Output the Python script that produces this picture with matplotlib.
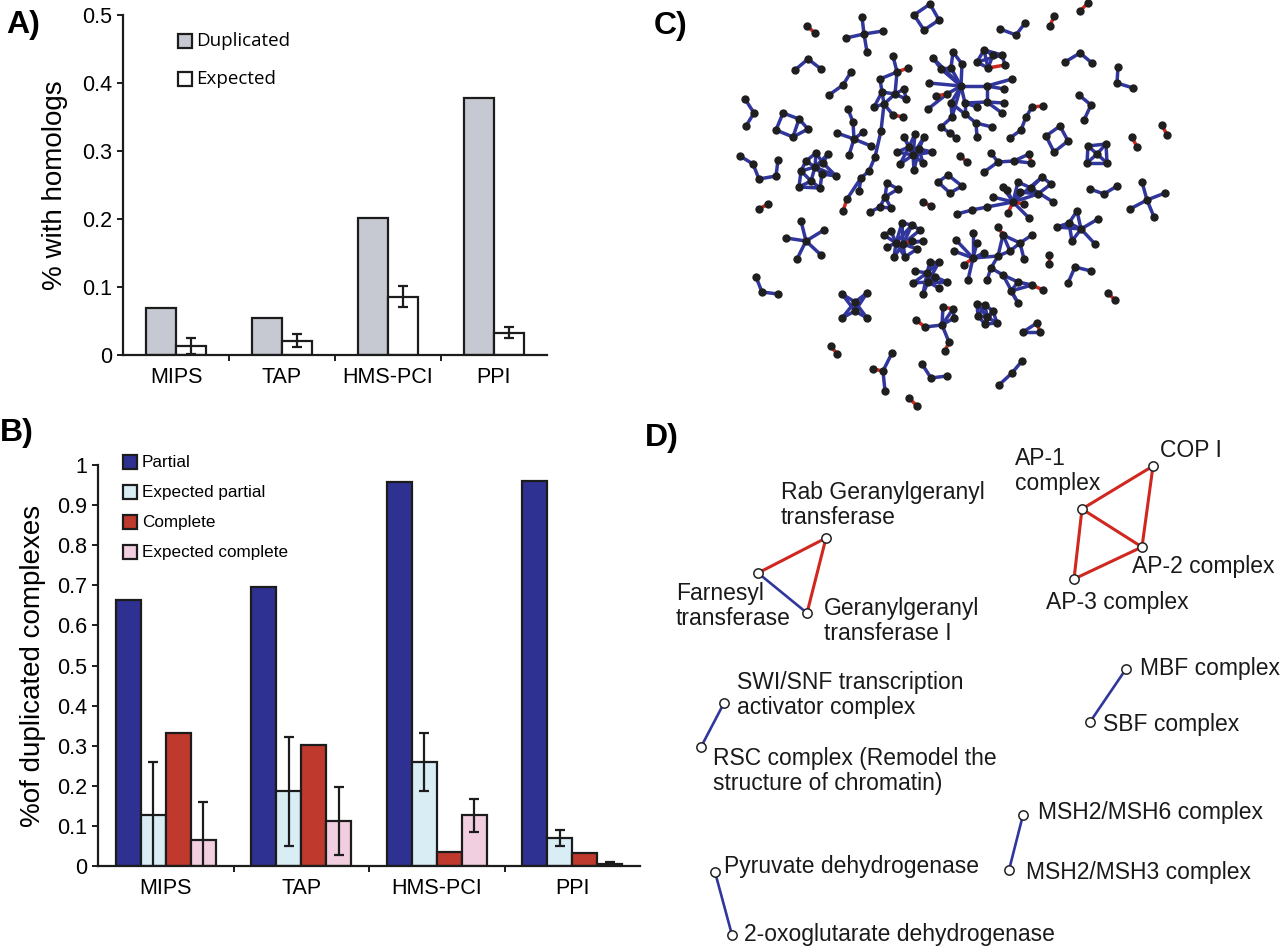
import numpy as np
import matplotlib.pyplot as plt
from matplotlib.patches import Rectangle
from matplotlib.collections import LineCollection
from matplotlib.ticker import FuncFormatter

plt.rcParams['font.family'] = ['Liberation Sans', 'DejaVu Sans']

# ---- A) homologs ----
groups = ['MIPS', 'TAP', 'HMS-PCI', 'PPI']
a_duplicated = [0.069, 0.055, 0.201, 0.378]
a_expected = [0.013, 0.021, 0.086, 0.033]
a_expected_err = [0.012, 0.0095, 0.016, 0.008]
a_legend = ['Duplicated', 'Expected']

# ---- B) duplicated complexes ----
b_partial = [0.664, 0.695, 0.958, 0.959]
b_exp_partial = [0.126, 0.186, 0.260, 0.069]
b_exp_partial_err = [0.134, 0.135, 0.072, 0.020]
b_complete = [0.331, 0.301, 0.036, 0.033]
b_exp_complete = [0.065, 0.112, 0.126, 0.005]
b_exp_complete_err = [0.094, 0.085, 0.042, 0.005]
b_legend = ['Partial', 'Expected partial', 'Complete', 'Expected complete']

# ---- C) network of complexes (image pixel coords), (nodes, blue edges, red edges) ----
net = [
    ([(807, 26), (815, 33)], [], [(0, 1)]),
    ([(864, 34), (862, 17), (846, 38), (883, 31), (867, 52)], [(0, 1), (0, 2), (0, 3), (0, 4)], []),
    ([(914, 15), (930, 4), (939, 20), (924, 30)], [(0, 1), (1, 2), (2, 3), (3, 0)], []),
    ([(795, 70), (808, 59), (821, 69)], [(0, 1), (1, 2)], []),
    ([(829, 95), (843, 85), (851, 72)], [(0, 1), (1, 2)], []),
    ([(745, 99), (754, 113), (746, 126)], [(0, 1), (1, 2)], []),
    ([(783, 113), (799, 119), (808, 129), (793, 137), (776, 130)],
     [(0, 1), (1, 2), (2, 3), (3, 4), (4, 0), (1, 3)], []),
    ([(740, 156), (753, 164), (759, 179), (776, 176), (778, 160)], [(0, 1), (1, 2), (2, 3), (3, 4)], []),
    ([(816, 153), (828, 154), (806, 161), (823, 163), (815, 167), (801, 171), (822, 174), (811, 181),
      (836, 176), (799, 187), (820, 188)],
     [(0, 4), (1, 4), (2, 4), (3, 4), (4, 5), (4, 6), (4, 7), (0, 2), (1, 3), (3, 8), (6, 8), (5, 9),
      (7, 9), (9, 10), (7, 10), (6, 10), (2, 5), (0, 3), (5, 7), (4, 8)], []),
    ([(854, 139), (848, 109), (853, 122), (837, 133), (863, 132), (871, 146), (849, 155)],
     [(1, 2), (2, 0), (0, 3), (0, 4), (0, 5), (0, 6)], []),
    ([(893, 56), (897, 72), (908, 68), (880, 79), (882, 92), (895, 94), (904, 89), (906, 99), (874, 107),
      (884, 104), (893, 115), (903, 117), (881, 131), (875, 157), (869, 171), (861, 178), (859, 191),
      (847, 199), (843, 211)],
     [(0, 1), (1, 3), (3, 4), (4, 5), (5, 6), (6, 7), (4, 8), (8, 9), (9, 5), (5, 7), (4, 9), (9, 10),
      (1, 5), (9, 12), (12, 13), (13, 14), (14, 15), (15, 17), (15, 16)],
     [(1, 2), (10, 11), (17, 18)]),
    ([(961, 86), (933, 58), (941, 69), (953, 52), (951, 68), (962, 64), (929, 83), (936, 96), (947, 94),
      (928, 109), (951, 103), (965, 103), (977, 107), (965, 114), (952, 117), (941, 127), (950, 133),
      (956, 138), (976, 123), (977, 137), (992, 127), (987, 86), (987, 102), (1004, 103), (1012, 79),
      (1004, 89), (1002, 113)],
     [(1, 2), (2, 0), (3, 4), (3, 5), (5, 0), (4, 0), (0, 6), (0, 8), (8, 9), (0, 10), (0, 11), (0, 21),
      (21, 24), (21, 25), (21, 22), (22, 11), (22, 23), (22, 26), (11, 12), (11, 13), (10, 14),
      (14, 15), (15, 16), (16, 17), (13, 18), (18, 20), (18, 19), (10, 13), (1, 0), (4, 2), (0, 14)],
     [(7, 8)]),
    ([(984, 50), (993, 55), (977, 62), (988, 68), (1002, 55), (1005, 65)],
     [(0, 1), (0, 2), (0, 3), (1, 4), (2, 3), (2, 4), (0, 4), (4, 5), (1, 3)], [(3, 5)]),
    ([(913, 155), (904, 137), (915, 134), (924, 137), (897, 152), (900, 164), (914, 170), (923, 163),
      (932, 152), (909, 147), (919, 149)],
     [(0, 1), (0, 2), (0, 3), (0, 4), (0, 5), (0, 6), (0, 7), (0, 8), (0, 9), (0, 10), (9, 1), (9, 2),
      (10, 3), (10, 8), (9, 4), (10, 7), (9, 10), (9, 5), (10, 6)], []),
    ([(960, 156), (967, 162)], [], [(0, 1)]),
    ([(938, 182), (948, 175), (962, 186), (950, 193)], [(0, 1), (1, 2), (2, 3), (3, 0)], []),
    ([(887, 183), (898, 189), (885, 197), (880, 207), (891, 208), (870, 212)],
     [(0, 1), (1, 2), (0, 2), (2, 3), (2, 4), (3, 4), (3, 5)], []),
    ([(923, 202), (931, 206)], [], [(0, 1)]),
    ([(759, 209), (768, 204)], [], [(0, 1)]),
    ([(1000, 29), (1016, 35), (1025, 23)], [(0, 1), (1, 2)], []),
    ([(991, 153), (998, 162), (984, 172), (1014, 161), (1029, 154), (1031, 163)],
     [(0, 1), (1, 2), (1, 3), (3, 4), (3, 5)], [(4, 5)]),
    ([(1080, 11), (1088, 3)], [], [(0, 1)]),
    ([(1050, 26), (1054, 16)], [], [(0, 1)]),
    ([(1065, 62), (1080, 53), (1092, 63)], [(0, 1), (1, 2)], []),
    ([(1118, 67), (1117, 83), (1133, 88)], [(0, 1), (1, 2)], []),
    ([(1010, 138), (1021, 130), (1026, 117), (1032, 107), (1043, 106)], [(0, 1), (1, 2), (2, 3)], [(3, 4)]),
    ([(1079, 95), (1091, 105), (1084, 120)], [(0, 1), (1, 2)], []),
    ([(1046, 136), (1060, 126), (1068, 141), (1054, 152)], [(0, 1), (1, 2), (2, 3), (3, 0)], []),
    ([(1088, 146), (1106, 144), (1087, 163), (1107, 163), (1097, 154)],
     [(0, 1), (1, 3), (3, 2), (2, 0), (0, 4), (1, 4), (2, 4), (3, 4)], []),
    ([(1132, 137), (1137, 147)], [], [(0, 1)]),
    ([(1162, 125), (1167, 135)], [], [(0, 1)]),
    ([(1090, 189), (1104, 194), (1117, 186)], [(0, 1), (1, 2)], []),
    ([(1147, 200), (1142, 182), (1165, 193), (1130, 209), (1154, 217)], [(0, 1), (0, 2), (0, 3), (0, 4)], []),
    ([(1013, 202), (1003, 187), (993, 197), (987, 207), (972, 210), (957, 214), (1008, 213), (1029, 218),
      (1020, 192), (1018, 182), (1031, 188), (1042, 177), (1051, 184), (1038, 194), (1053, 202),
      (1024, 204), (1007, 190)],
     [(0, 1), (0, 2), (0, 3), (3, 4), (4, 5), (0, 7), (0, 8), (0, 9), (9, 10), (10, 11), (11, 12),
      (10, 14), (8, 13), (13, 12), (0, 13), (0, 16), (1, 16), (0, 11)],
     [(0, 6), (0, 15)]),
    ([(1077, 211), (1069, 223), (1057, 227), (1081, 229), (1098, 219), (1072, 241), (1095, 244)],
     [(0, 1), (0, 3), (1, 2), (2, 3), (1, 3), (3, 4), (3, 6), (1, 5), (5, 3)], []),
    ([(806, 241), (801, 221), (824, 230), (786, 238), (797, 259), (821, 255)],
     [(0, 1), (0, 2), (0, 3), (0, 4), (0, 5)], []),
    ([(902, 223), (912, 225), (920, 230), (891, 231), (884, 235), (896, 243), (903, 244), (912, 241),
      (923, 241), (887, 247), (917, 249), (894, 257), (905, 257)],
     [(5, 0), (5, 1), (5, 3), (5, 4), (5, 9), (5, 11), (5, 12), (6, 0), (6, 1), (6, 2), (6, 8), (6, 10),
      (6, 11), (6, 12), (5, 6), (0, 1), (1, 2), (3, 4), (10, 12), (7, 8)], [(6, 7)]),
    ([(930, 262), (939, 262), (915, 271), (927, 273), (935, 277), (913, 283), (928, 282), (947, 282),
      (939, 288), (923, 294)],
     [(3, 0), (3, 1), (3, 2), (3, 4), (3, 5), (3, 6), (3, 9), (6, 0), (6, 1), (6, 4), (6, 7), (6, 8),
      (6, 9), (6, 5), (0, 1), (4, 7)], []),
    ([(973, 258), (973, 233), (956, 240), (977, 243), (954, 251), (964, 265), (968, 280), (984, 253),
      (998, 256), (1003, 235), (1020, 243), (1032, 235), (1010, 251), (1024, 259), (998, 227),
      (987, 280), (991, 268), (1003, 275), (1018, 282), (1032, 285), (1043, 290), (1011, 291),
      (1018, 303)],
     [(0, 1), (0, 2), (0, 3), (0, 4), (0, 6), (0, 7), (0, 8), (8, 9), (9, 10), (10, 11), (10, 13),
      (12, 10), (12, 8), (8, 16), (16, 15), (16, 17), (17, 18), (18, 19), (18, 21), (21, 22),
      (17, 22), (19, 21), (9, 12)],
     [(0, 5), (14, 9), (19, 20)]),
    ([(756, 277), (762, 292), (778, 294)], [(0, 1), (1, 2)], []),
    ([(842, 294), (867, 293), (855, 302), (855, 311), (842, 318), (867, 318)],
     [(0, 2), (1, 2), (2, 3), (3, 4), (3, 5), (0, 3), (1, 3), (2, 4), (2, 5)], []),
    ([(916, 320), (925, 327), (942, 325), (943, 307), (953, 309), (954, 318), (949, 342), (945, 351)],
     [(1, 2), (2, 3), (2, 4), (2, 5), (4, 5), (2, 6)], [(0, 1), (3, 4), (6, 7)]),
    ([(977, 304), (985, 305), (993, 311), (978, 316), (987, 317), (985, 324), (997, 323)],
     [(0, 1), (0, 3), (0, 4), (1, 2), (1, 4), (1, 3), (2, 4), (2, 6), (3, 4), (3, 5), (4, 5), (4, 6),
      (5, 6), (2, 5)], []),
    ([(831, 346), (837, 354)], [], [(0, 1)]),
    ([(892, 353), (883, 371), (873, 369), (885, 391)], [(0, 1), (1, 3)], [(1, 2)]),
    ([(922, 364), (931, 378), (947, 376)], [(0, 1), (1, 2)], []),
    ([(909, 398), (917, 406)], [], [(0, 1)]),
    ([(1022, 361), (1012, 373), (999, 385)], [(0, 1), (1, 2)], []),
    ([(1049, 255), (1049, 264)], [], [(0, 1)]),
    ([(1075, 267), (1091, 271), (1068, 283)], [(0, 1), (0, 2)], []),
    ([(1037, 323), (1023, 332), (1040, 332)], [(0, 1), (1, 2)], [(0, 2)]),
    ([(1108, 293), (1115, 300)], [], [(0, 1)]),
]

# ---- D) duplicated complex pairs ----
d_names = ['Rab Geranylgeranyl\ntransferase', 'Farnesyl\ntransferase', 'Geranylgeranyl\ntransferase I',
           'AP-1\ncomplex', 'COP I', 'AP-2 complex', 'AP-3 complex',
           'SWI/SNF transcription\nactivator complex', 'RSC complex (Remodel the\nstructure of chromatin)',
           'MBF complex', 'SBF complex', 'MSH2/MSH6 complex', 'MSH2/MSH3 complex',
           'Pyruvate dehydrogenase', '2-oxoglutarate dehydrogenase']
d_nodes = [(826, 538), (758, 573), (807, 613), (1082, 509), (1153, 466), (1142, 547), (1074, 579),
           (724, 703), (701, 747), (1126, 669), (1090, 722), (1023, 815), (1009, 870),
           (715, 872), (732, 935)]
d_label_pos = [(781, 505), (676, 606), (824, 621), (1015, 471), (1160, 450), (1132, 567), (1046, 603),
               (737, 695), (713, 771), (1140, 668), (1103, 725), (1038, 813), (1026, 872),
               (724, 867), (744, 935)]
d_red = [(0, 1), (0, 2), (3, 4), (4, 5), (3, 5), (3, 6), (6, 5)]
d_blue = [(1, 2), (7, 8), (9, 10), (11, 12), (13, 14)]

BLUE = '#31369c'
RED = '#d0281f'
EDGE = '#1c1c1c'

fig = plt.figure(figsize=(12.8, 9.48), dpi=100)


def px_axes(x0, y0, x1, y1):
    return fig.add_axes([x0 / 1280, 1 - y1 / 948, (x1 - x0) / 1280, (y1 - y0) / 948])


def style_bar_axes(ax, ymax, step):
    for s in ['top', 'right']:
        ax.spines[s].set_visible(False)
    for s in ['left', 'bottom']:
        ax.spines[s].set_linewidth(1.6)
        ax.spines[s].set_color(EDGE)
    ax.set_xlim(-0.5, 3.5)
    ax.set_ylim(0, ymax)
    ax.set_yticks(np.arange(0, ymax + 1e-9, step))
    ax.yaxis.set_major_formatter(FuncFormatter(lambda v, p: f'{v:g}'))
    ax.set_xticks(range(4))
    ax.set_xticklabels(groups)
    ax.set_xticks([0.5, 1.5, 2.5], minor=True)
    ax.tick_params(axis='y', length=4, width=1.4, labelsize=15.5, pad=4, color=EDGE)
    ax.tick_params(axis='x', which='major', length=0, labelsize=15.5, pad=9)
    ax.tick_params(axis='x', which='minor', length=4, width=1.4, color=EDGE)
    ax.set_facecolor('none')


# ---- panel A ----
ax_a = px_axes(123, 15, 547, 355)
x = np.arange(len(groups))
wa = 0.287
ax_a.bar(x - wa / 2, a_duplicated, wa, color='#c6c9d1', edgecolor=EDGE, linewidth=1.6)
ax_a.bar(x + wa / 2, a_expected, wa, color='white', edgecolor=EDGE, linewidth=1.6)
ax_a.errorbar(x + wa / 2, a_expected, yerr=a_expected_err, fmt='none', ecolor=EDGE,
              elinewidth=1.6, capsize=3.5, capthick=1.6)
style_bar_axes(ax_a, 0.5, 0.1)
ax_a.set_ylabel('% with homologs', fontsize=20, labelpad=10)

# ---- panel B ----
ax_b = px_axes(98, 465, 640, 866)
wb = 0.185
b_series = [b_partial, b_exp_partial, b_complete, b_exp_complete]
b_errs = [None, b_exp_partial_err, None, b_exp_complete_err]
b_colors = ['#2f3192', '#d9edf5', '#c0392d', '#f1cfe0']
for i, (vals, err, col) in enumerate(zip(b_series, b_errs, b_colors)):
    xs = x + (i - 1.5) * wb
    ax_b.bar(xs, vals, wb, color=col, edgecolor=EDGE, linewidth=1.6)
    if err is not None:
        ax_b.errorbar(xs, vals, yerr=err, fmt='none', ecolor=EDGE,
                      elinewidth=1.6, capsize=3.5, capthick=1.6)
style_bar_axes(ax_b, 1.0, 0.1)
ax_b.set_ylabel('%of duplicated complexes', fontsize=20, labelpad=8)

# ---- overlay in image pixel coordinates: legends, network, panel D ----
ov = fig.add_axes([0, 0, 1, 1], zorder=10)
ov.set_xlim(0, 1280)
ov.set_ylim(948, 0)
ov.axis('off')
ov.patch.set_visible(False)

for k, (lab, col) in enumerate(zip(a_legend, ['#c6c9d1', 'white'])):
    yc = 41 + 37.5 * k
    ov.add_patch(Rectangle((178, yc - 7), 14, 14, facecolor=col, edgecolor=EDGE, linewidth=1.6))
    ov.text(196, yc, lab, fontsize=13.5, family=['Open Sans', 'DejaVu Sans'], va='center', ha='left')

for k, (lab, col) in enumerate(zip(b_legend, b_colors)):
    yc = 462 + 30 * k
    ov.add_patch(Rectangle((123, yc - 7), 14, 14, facecolor=col, edgecolor=EDGE, linewidth=1.6))
    ov.text(142, yc, lab, fontsize=12.3, va='center', ha='left')

for lab, (px, py) in zip(['A)', 'B)', 'C)', 'D)'], [(6, 33), (0, 441), (654, 34), (645, 446)]):
    ov.text(px, py, lab, fontsize=23, fontweight='bold', va='baseline', ha='left')

# network C
blue_segs, red_segs, pts = [], [], []
for nodes, be, re in net:
    pts.extend(nodes)
    blue_segs.extend([(nodes[i], nodes[j]) for i, j in be])
    red_segs.extend([(nodes[i], nodes[j]) for i, j in re])
ov.add_collection(LineCollection(blue_segs, colors=BLUE, linewidths=2.5, zorder=2))
ov.add_collection(LineCollection(red_segs, colors=RED, linewidths=2.5, zorder=2))
pts = np.array(pts)
ov.scatter(pts[:, 0], pts[:, 1], s=36, color='#1f1f1f', zorder=3, linewidths=0)

# panel D
for (i, j) in d_red:
    ov.plot([d_nodes[i][0], d_nodes[j][0]], [d_nodes[i][1], d_nodes[j][1]], color=RED, lw=2.2, zorder=2)
for (i, j) in d_blue:
    ov.plot([d_nodes[i][0], d_nodes[j][0]], [d_nodes[i][1], d_nodes[j][1]], color=BLUE, lw=1.9, zorder=2)
dn = np.array(d_nodes)
ov.scatter(dn[:, 0], dn[:, 1], s=45, facecolor='white', edgecolor='#222222', linewidths=1.1, zorder=3)
for name, (tx, ty) in zip(d_names, d_label_pos):
    ov.text(tx, ty, name, fontsize=16.5, va='center', ha='left', linespacing=1.15, color='#1a1a1a')

fig.savefig('out.png', dpi=100)
